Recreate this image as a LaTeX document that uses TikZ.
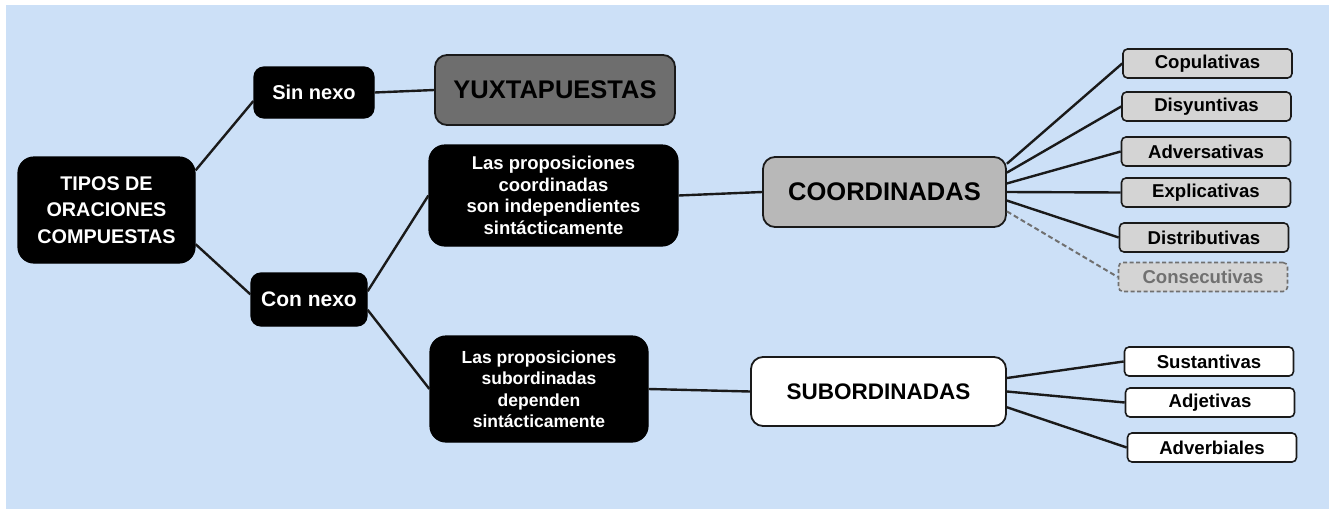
\documentclass[tikz,border=0pt]{standalone}
\usepackage{fontspec}
\setmainfont{Liberation Sans}
\definecolor{bgblue}{HTML}{CCE0F7}
\definecolor{yuxgray}{HTML}{6E6E6E}
\definecolor{coordgray}{HTML}{B8B8B8}
\definecolor{smallgray}{HTML}{D4D4D4}
\definecolor{bord}{HTML}{1A1A1A}
\definecolor{dashgray}{HTML}{707070}
\begin{document}
\begin{tikzpicture}[x=1pt,y=-1pt,
  darkbox/.style={fill=black, draw=black, line width=1.2pt, text=white, inner sep=0pt, align=center},
  bigbox/.style={draw=bord, line width=1.8pt, rounded corners=12pt, inner sep=0pt, align=center, text=black},
  leaf/.style={draw=bord, line width=1.6pt, rounded corners=4.5pt, inner sep=0pt,
    minimum width=169pt, minimum height=29pt, text=black, font=\fontsize{18.6}{20}\selectfont\bfseries},
  link/.style={draw=bord, line width=2.4pt},
  dlink/.style={draw=dashgray, line width=2pt, dash pattern=on 5pt off 3pt}]
\useasboundingbox (0,0) rectangle (1334,509);
\fill[white] (0,0) rectangle (1334,509);
\fill[bgblue] (6,5) rectangle (1329,509);

% dark nodes
\node[darkbox, rounded corners=16pt, minimum width=177pt, minimum height=106pt,
  font=\fontsize{19.8}{26.5}\selectfont\bfseries] (tipos) at (106.5,210) {TIPOS DE\\ORACIONES\\COMPUESTAS};
\node[darkbox, rounded corners=10pt, minimum width=120pt, minimum height=51pt,
  font=\fontsize{20}{22}\selectfont\bfseries] (sinnexo) at (314,92.5) {Sin nexo};
\node[darkbox, rounded corners=10pt, minimum width=116pt, minimum height=53pt,
  font=\fontsize{21}{22}\selectfont\bfseries] (connexo) at (309,299.5) {Con nexo};
\node[darkbox, rounded corners=16pt, minimum width=249pt, minimum height=101pt,
  font=\fontsize{18.5}{21.5}\selectfont\bfseries] (coordbox) at (553.5,195.5)
  {Las proposiciones\\coordinadas\\son independientes\\sintácticamente};
\node[darkbox, rounded corners=16pt, minimum width=218pt, minimum height=106pt,
  font=\fontsize{17.5}{21.5}\selectfont\bfseries] (subbox) at (539,389)
  {Las proposiciones\\subordinadas\\dependen\\sintácticamente};

% big nodes
\node[bigbox, fill=yuxgray, minimum width=240pt, minimum height=70pt,
  font=\fontsize{25.5}{28}\selectfont\bfseries] (yuxta) at (555,90) {YUXTAPUESTAS};
\node[bigbox, fill=coordgray, minimum width=243pt, minimum height=70pt,
  font=\fontsize{25.5}{28}\selectfont\bfseries] (coord) at (884.5,192) {COORDINADAS};
\node[bigbox, fill=white, minimum width=255pt, minimum height=69pt,
  font=\fontsize{22.5}{28}\selectfont\bfseries] (subord) at (878.5,391.5) {SUBORDINADAS};

% coordinate leaves
\node[leaf, fill=smallgray] (copul) at (1207.5,63.5) {Copulativas};
\node[leaf, fill=smallgray] (disy) at (1206.5,106.5) {Disyuntivas};
\node[leaf, fill=smallgray] (adver) at (1206,151.5) {Adversativas};
\node[leaf, fill=smallgray] (expl) at (1206,192.5) {Explicativas};
\node[leaf, fill=smallgray] (distr) at (1204,237.5) {Distributivas};
\node[leaf, fill=smallgray, draw=dashgray, dash pattern=on 4pt off 2.5pt, text=dashgray] (conse) at (1203,277) {Consecutivas};

% subordinate leaves
\node[leaf, fill=white] (sust) at (1209,361.5) {Sustantivas};
\node[leaf, fill=white] (adje) at (1210,402.5) {Adjetivas};
\node[leaf, fill=white] (adverb) at (1212,447.5) {Adverbiales};

% connectors
\draw[link] (tipos.24) -- (sinnexo.188);
\draw[link] (tipos.-21) -- (connexo.175);
\draw[link] (sinnexo.east) -- (yuxta.west);
\draw[link] (connexo.8) -- (coordbox.west);
\draw[link] (connexo.-10) -- (subbox.west);
\draw[link] (coordbox.east) -- (coord.west);
\draw[link] (subbox.east) -- (subord.west);

\draw[link] (coord.13) -- (copul.west);
\draw[link] (coord.9) -- (disy.west);
\draw[link] (coord.4.5) -- (adver.west);
\draw[link] (coord.0) -- (expl.west);
\draw[link] (coord.-4) -- (distr.west);
\draw[dlink] (coord.-9.5) -- (conse.west);

\draw[link] (subord.6) -- (sust.west);
\draw[link] (subord.0) -- (adje.west);
\draw[link] (subord.-7.5) -- (adverb.west);
\end{tikzpicture}
\end{document}
